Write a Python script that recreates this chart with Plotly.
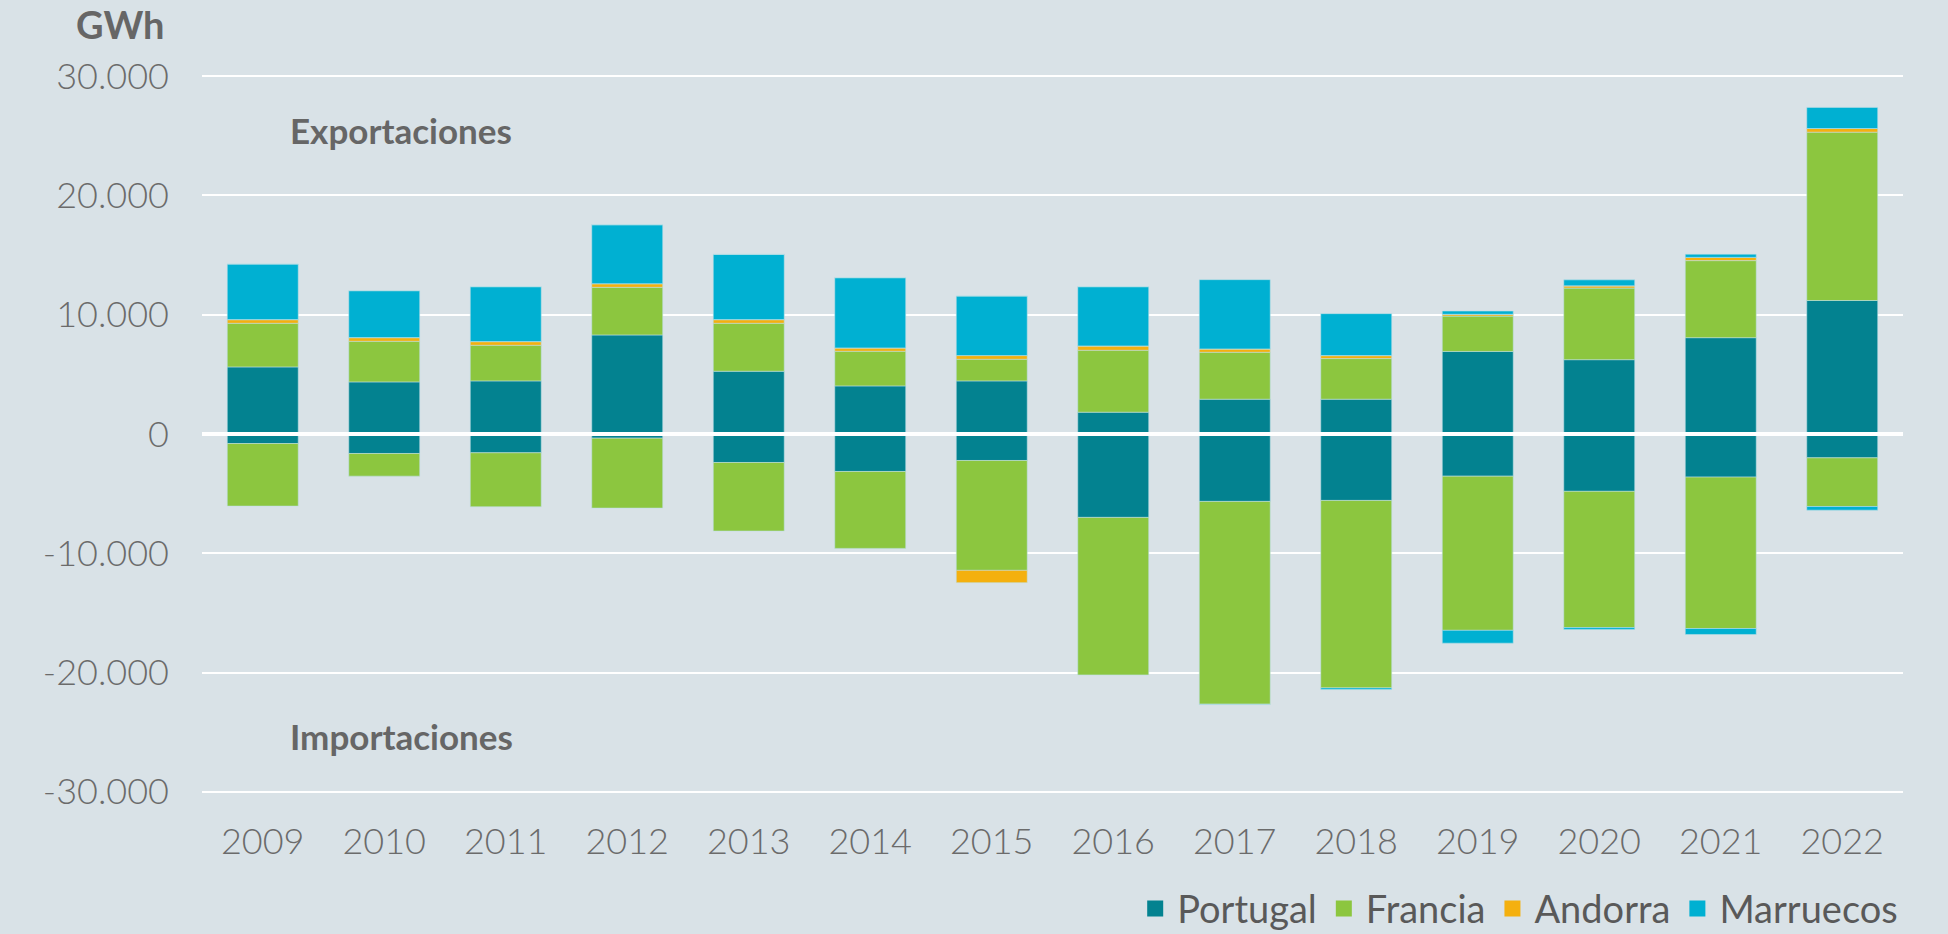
import plotly.graph_objects as go

years = [str(y) for y in range(2009, 2023)]

# exportaciones (GWh)
exp_portugal = [5625, 4369, 4453, 8305, 5262, 4034, 4453, 1829, 2917, 2917, 6923, 6231, 8077, 11192]
exp_francia = [3658, 3406, 2987, 3993, 4021, 2904, 1814, 5192, 3937, 3406, 2962, 6000, 6461, 14116]
exp_andorra = [307, 307, 307, 307, 307, 279, 307, 363, 279, 251, 153, 192, 270, 307]
exp_marruecos = [4662, 3937, 4606, 4941, 5471, 5890, 4997, 4969, 5807, 3517, 270, 500, 269, 1770]

# importaciones (GWh)
imp_portugal = [-796, -1633, -1577, -349, -2387, -3141, -2219, -6993, -5653, -5570, -3538, -4808, -3615, -2000]
imp_francia = [-5248, -1899, -4523, -5863, -5751, -6449, -9213, -13205, -17002, -15717, -12924, -11423, -12693, -4077]
imp_andorra = [0, 0, 0, 0, 0, 0, -1033, 0, 0, 0, 0, 0, 0, 0]
imp_marruecos = [0, 0, 0, 0, 0, 0, 0, 0, -30, -140, -1076, -154, -500, -308]

y_ticks = [-30000, -20000, -10000, 0, 10000, 20000, 30000]
y_ticktext = ['-30.000', '-20.000', '-10.000', '0', '10.000', '20.000', '30.000']

series = [
    ('Portugal', '#038290', exp_portugal, imp_portugal),
    ('Francia', '#8cc63f', exp_francia, imp_francia),
    ('Andorra', '#f4b00f', exp_andorra, imp_andorra),
    ('Marruecos', '#00b0d2', exp_marruecos, imp_marruecos),
]

bg = '#d9e2e7'
grey = '#6b6b6b'

fig = go.Figure()
for name, color, exp_vals, imp_vals in series:
    for vals in (exp_vals, imp_vals):
        fig.add_trace(go.Bar(x=years, y=vals, name=name,
                             legendgroup=name, showlegend=False,
                             marker=dict(color=color,
                                         line=dict(width=0.8, color='rgba(190,225,230,0.7)'))))
    # legend entry with a bigger square
    fig.add_trace(go.Scatter(x=[None], y=[None], mode='markers', name=name,
                             legendgroup=name,
                             marker=dict(symbol='square', size=16, color=color)))

fig.add_shape(type='line', xref='paper', yref='y', x0=0, x1=1, y0=0, y1=0,
              line=dict(color='white', width=4), layer='above')

fig.update_layout(
    width=1948, height=934,
    barmode='relative', bargap=0.416,
    paper_bgcolor=bg, plot_bgcolor=bg,
    margin=dict(l=202, r=45, t=75, b=141, autoexpand=False),
    font=dict(family='Lato', color=grey),
    showlegend=True,
    legend=dict(orientation='h', xref='container', yref='container',
                x=0.977, xanchor='right', y=0.027, yanchor='middle',
                font=dict(family='Lato', size=38, color='#595959'),
                bgcolor='rgba(0,0,0,0)', traceorder='normal', itemwidth=34),
    xaxis=dict(showgrid=False, zeroline=False, showline=False,
               tickfont=dict(family='Lato', size=36, weight=300, color=grey),
               ticks='', ticklabelstandoff=24),
    yaxis=dict(range=[-30100, 30100], tickvals=y_ticks, ticktext=y_ticktext,
               showgrid=True, gridcolor='white', gridwidth=2,
               zeroline=False, showline=False, ticks='',
               tickfont=dict(family='Lato', size=36, weight=300, color=grey),
               ticklabelstandoff=32),
    annotations=[
        dict(text='<b>GWh</b>', xref='paper', yref='paper', x=-0.021, y=1.071,
             xanchor='right', yanchor='middle', showarrow=False,
             font=dict(family='Lato', size=38, color='#666666')),
        dict(text='<b>Exportaciones</b>', xref='paper', yref='paper', x=0.0506, y=0.923,
             xanchor='left', yanchor='middle', showarrow=False,
             font=dict(family='Lato', size=35, color='#666666')),
        dict(text='<b>Importaciones</b>', xref='paper', yref='paper', x=0.0506, y=0.0798,
             xanchor='left', yanchor='middle', showarrow=False,
             font=dict(family='Lato', size=35, color='#666666')),
    ],
)

fig.write_html('out.html', config={'displayModeBar': False},
               post_script="document.body.style.margin='0';")
